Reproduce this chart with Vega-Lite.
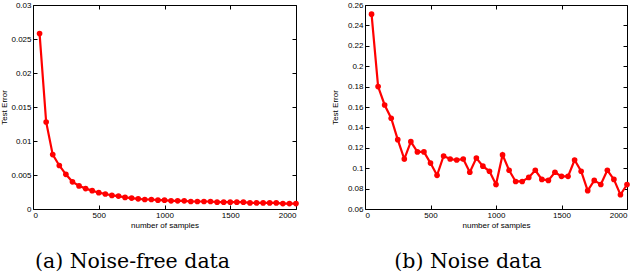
{
  "$schema": "https://vega.github.io/schema/vega-lite/v6.json",
  "padding": 0,
  "spacing": 29,
  "datasets": {
    "clean": [
      {"n": 50, "err": 0.0258}, {"n": 100, "err": 0.0128}, {"n": 150, "err": 0.0080}, {"n": 200, "err": 0.0064},
      {"n": 250, "err": 0.0051}, {"n": 300, "err": 0.0040}, {"n": 350, "err": 0.0034}, {"n": 400, "err": 0.0030},
      {"n": 450, "err": 0.0027}, {"n": 500, "err": 0.0024}, {"n": 550, "err": 0.0022}, {"n": 600, "err": 0.0020},
      {"n": 650, "err": 0.0019}, {"n": 700, "err": 0.0017}, {"n": 750, "err": 0.0016}, {"n": 800, "err": 0.0015},
      {"n": 850, "err": 0.0014}, {"n": 900, "err": 0.0014}, {"n": 950, "err": 0.0013}, {"n": 1000, "err": 0.0013},
      {"n": 1050, "err": 0.0012}, {"n": 1100, "err": 0.0012}, {"n": 1150, "err": 0.0012}, {"n": 1200, "err": 0.0011},
      {"n": 1250, "err": 0.0011}, {"n": 1300, "err": 0.0011}, {"n": 1350, "err": 0.0011}, {"n": 1400, "err": 0.0010},
      {"n": 1450, "err": 0.0010}, {"n": 1500, "err": 0.0010}, {"n": 1550, "err": 0.0010}, {"n": 1600, "err": 0.0010},
      {"n": 1650, "err": 0.0009}, {"n": 1700, "err": 0.0009}, {"n": 1750, "err": 0.0009}, {"n": 1800, "err": 0.0009},
      {"n": 1850, "err": 0.0009}, {"n": 1900, "err": 0.0008}, {"n": 1950, "err": 0.0008}, {"n": 2000, "err": 0.0008}
    ],
    "noisy": [
      {"n": 50, "err": 0.251}, {"n": 100, "err": 0.180}, {"n": 150, "err": 0.162}, {"n": 200, "err": 0.149},
      {"n": 250, "err": 0.128}, {"n": 300, "err": 0.109}, {"n": 350, "err": 0.126}, {"n": 400, "err": 0.116},
      {"n": 450, "err": 0.116}, {"n": 500, "err": 0.105}, {"n": 550, "err": 0.093}, {"n": 600, "err": 0.112},
      {"n": 650, "err": 0.109}, {"n": 700, "err": 0.108}, {"n": 750, "err": 0.109}, {"n": 800, "err": 0.096},
      {"n": 850, "err": 0.110}, {"n": 900, "err": 0.102}, {"n": 950, "err": 0.097}, {"n": 1000, "err": 0.084},
      {"n": 1050, "err": 0.113}, {"n": 1100, "err": 0.098}, {"n": 1150, "err": 0.087}, {"n": 1200, "err": 0.087},
      {"n": 1250, "err": 0.091}, {"n": 1300, "err": 0.098}, {"n": 1350, "err": 0.089}, {"n": 1400, "err": 0.088},
      {"n": 1450, "err": 0.096}, {"n": 1500, "err": 0.092}, {"n": 1550, "err": 0.092}, {"n": 1600, "err": 0.108},
      {"n": 1650, "err": 0.097}, {"n": 1700, "err": 0.078}, {"n": 1750, "err": 0.088}, {"n": 1800, "err": 0.084},
      {"n": 1850, "err": 0.098}, {"n": 1900, "err": 0.089}, {"n": 1950, "err": 0.074}, {"n": 2000, "err": 0.084}
    ]
  },
  "hconcat": [
    {
      "width": 263,
      "height": 204,
      "data": {"name": "clean"},
      "title": {"text": "(a) Noise-free data", "orient": "bottom", "anchor": "middle", "dx": -32, "offset": 23},
      "layer": [
        {
          "mark": {"type": "line", "color": "#ff0000", "strokeWidth": 2.2},
          "encoding": {
            "x": {"field": "n", "type": "quantitative", "scale": {"domain": [0, 2000], "nice": false, "zero": false},
                  "axis": {"orient": "bottom", "values": [0, 500, 1000, 1500, 2000], "format": "d", "title": "number of samples"}},
            "y": {"field": "err", "type": "quantitative", "scale": {"domain": [0, 0.03], "nice": false, "zero": false},
                  "axis": {"orient": "left", "values": [0, 0.005, 0.01, 0.015, 0.02, 0.025, 0.03], "format": "~g", "title": "Test Error", "titlePadding": 2}}
          }
        },
        {
          "mark": {"type": "point", "filled": true, "color": "#ff0000", "size": 32, "opacity": 1},
          "encoding": {
            "x": {"field": "n", "type": "quantitative", "scale": {"domain": [0, 2000], "nice": false, "zero": false},
                  "axis": {"orient": "top", "values": [0, 500, 1000, 1500, 2000], "labels": false, "title": null}},
            "y": {"field": "err", "type": "quantitative", "scale": {"domain": [0, 0.03], "nice": false, "zero": false},
                  "axis": {"orient": "right", "values": [0, 0.005, 0.01, 0.015, 0.02, 0.025, 0.03], "labels": false, "title": null}}
          }
        }
      ]
    },
    {
      "width": 262,
      "height": 204,
      "data": {"name": "noisy"},
      "title": {"text": "(b) Noise data", "orient": "bottom", "anchor": "middle", "dx": -28, "offset": 23},
      "layer": [
        {
          "mark": {"type": "line", "color": "#ff0000", "strokeWidth": 2.2},
          "encoding": {
            "x": {"field": "n", "type": "quantitative", "scale": {"domain": [0, 2000], "nice": false, "zero": false},
                  "axis": {"orient": "bottom", "values": [0, 500, 1000, 1500, 2000], "format": "d", "title": "number of samples"}},
            "y": {"field": "err", "type": "quantitative", "scale": {"domain": [0.06, 0.26], "nice": false, "zero": false},
                  "axis": {"orient": "left", "values": [0.06, 0.08, 0.1, 0.12, 0.14, 0.16, 0.18, 0.2, 0.22, 0.24, 0.26], "format": "~g", "title": "Test Error", "titlePadding": 8}}
          }
        },
        {
          "mark": {"type": "point", "filled": true, "color": "#ff0000", "size": 32, "opacity": 1},
          "encoding": {
            "x": {"field": "n", "type": "quantitative", "scale": {"domain": [0, 2000], "nice": false, "zero": false},
                  "axis": {"orient": "top", "values": [0, 500, 1000, 1500, 2000], "labels": false, "title": null}},
            "y": {"field": "err", "type": "quantitative", "scale": {"domain": [0.06, 0.26], "nice": false, "zero": false},
                  "axis": {"orient": "right", "values": [0.06, 0.08, 0.1, 0.12, 0.14, 0.16, 0.18, 0.2, 0.22, 0.24, 0.26], "labels": false, "title": null}}
          }
        }
      ]
    }
  ],
  "config": {
    "view": {"stroke": "#000000", "strokeWidth": 1},
    "axis": {
      "domain": false,
      "grid": false,
      "ticks": true,
      "tickSize": -4,
      "tickColor": "#000000",
      "tickWidth": 1,
      "labelFont": "Liberation Sans",
      "labelFontSize": 8,
      "labelColor": "#000000",
      "labelPadding": 6,
      "titleFont": "Liberation Sans",
      "titleFontSize": 8,
      "titleFontWeight": "normal",
      "titleColor": "#000000",
      "titlePadding": 2
    },
    "title": {"font": "DejaVu Serif", "fontSize": 20.5, "fontWeight": "normal", "color": "#000000"}
  }
}
